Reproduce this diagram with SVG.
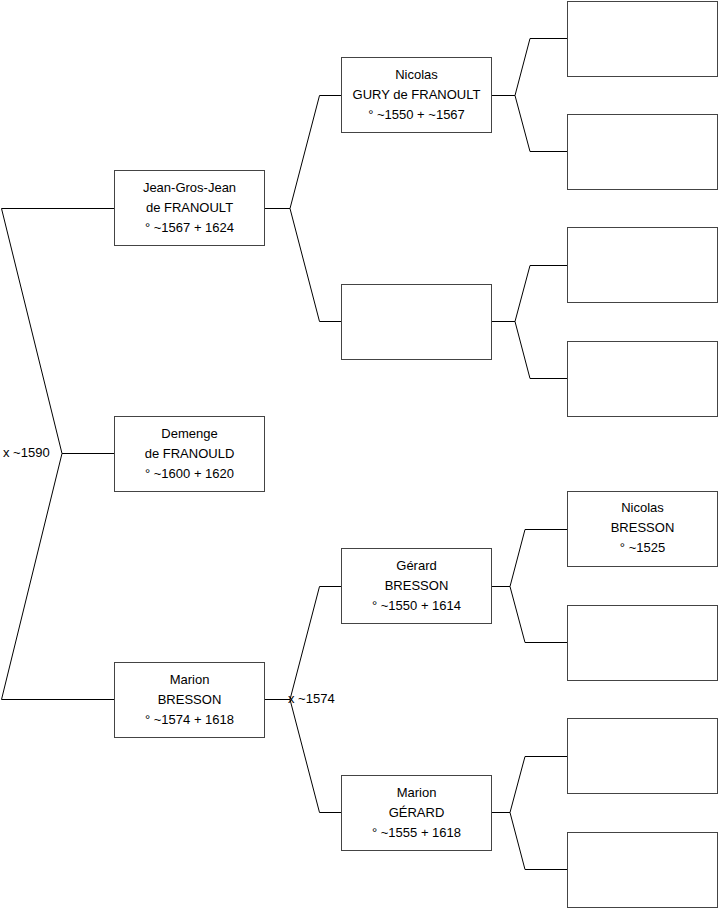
<svg xmlns="http://www.w3.org/2000/svg" width="719" height="908" viewBox="0 0 719 908">
<style>
.box{fill:#fff;stroke:#444;stroke-width:1}
.c{fill:none;stroke:#000;stroke-width:1}
text{font-family:"Liberation Sans",Arial,sans-serif;font-size:13px;fill:#000}
.t{text-anchor:middle}
</style>
<rect width="719" height="908" fill="#fff"/>
<g id="connectors">
<path class="c" d="M114,208.5 H1.5 L62,453.5 L1.5,699.5 H114 M62,453.5 H114"/>
<path class="c" d="M265,208.5 H290 L319.5,95.5 H341 M290,208.5 L319.5,321.5 H341"/>
<path class="c" d="M265,699.5 H290 L319.5,586.5 H341 M290,699.5 L319.5,812.5 H341"/>
<path class="c" d="M492,95.5 H515 L530,38.5 H567 M515,95.5 L530,151.5 H567"/>
<path class="c" d="M492,321.5 H515 L530,265.5 H567 M515,321.5 L530,378.5 H567"/>
<path class="c" d="M492,586.5 H510 L525,529.5 H567 M510,586.5 L525,642.5 H567"/>
<path class="c" d="M492,812.5 H510 L525,756.5 H567 M510,812.5 L525,869.5 H567"/>
<text x="3" y="456.5">x ~1590</text>
<text x="288" y="702.5">x ~1574</text>
</g>
<g id="jean">
<rect class="box" x="114.5" y="170.5" width="150" height="75"/>
<text class="t" x="189.5" y="191.5">Jean-Gros-Jean</text>
<text class="t" x="189.5" y="211.5">de FRANOULT</text>
<text class="t" x="189.5" y="231.5">° ~1567 + 1624</text>
</g>
<g id="demenge">
<rect class="box" x="114.5" y="416.5" width="150" height="75"/>
<text class="t" x="189.5" y="437.5">Demenge</text>
<text class="t" x="189.5" y="457.5">de FRANOULD</text>
<text class="t" x="189.5" y="477.5">° ~1600 + 1620</text>
</g>
<g id="marion-bresson">
<rect class="box" x="114.5" y="662.5" width="150" height="75"/>
<text class="t" x="189.5" y="683.5">Marion</text>
<text class="t" x="189.5" y="703.5">BRESSON</text>
<text class="t" x="189.5" y="723.5">° ~1574 + 1618</text>
</g>
<g id="nicolas-gury">
<rect class="box" x="341.5" y="57.5" width="150" height="75"/>
<text class="t" x="416.5" y="78.5">Nicolas</text>
<text class="t" x="416.5" y="98.5">GURY de FRANOULT</text>
<text class="t" x="416.5" y="118.5">° ~1550 + ~1567</text>
</g>
<g id="empty-2b">
<rect class="box" x="341.5" y="284.5" width="150" height="75"/>
</g>
<g id="gerard-bresson">
<rect class="box" x="341.5" y="548.5" width="150" height="75"/>
<text class="t" x="416.5" y="569.5">Gérard</text>
<text class="t" x="416.5" y="589.5">BRESSON</text>
<text class="t" x="416.5" y="609.5">° ~1550 + 1614</text>
</g>
<g id="marion-gerard">
<rect class="box" x="341.5" y="775.5" width="150" height="75"/>
<text class="t" x="416.5" y="796.5">Marion</text>
<text class="t" x="416.5" y="816.5">GÉRARD</text>
<text class="t" x="416.5" y="836.5">° ~1555 + 1618</text>
</g>
<g id="g3-1"><rect class="box" x="567.5" y="1.5" width="150" height="75"/></g>
<g id="g3-2"><rect class="box" x="567.5" y="114.5" width="150" height="75"/></g>
<g id="g3-3"><rect class="box" x="567.5" y="227.5" width="150" height="75"/></g>
<g id="g3-4"><rect class="box" x="567.5" y="341.5" width="150" height="75"/></g>
<g id="nicolas-bresson">
<rect class="box" x="567.5" y="491.5" width="150" height="75"/>
<text class="t" x="642.5" y="511.5">Nicolas</text>
<text class="t" x="642.5" y="531.5">BRESSON</text>
<text class="t" x="642.5" y="551.5">° ~1525</text>
</g>
<g id="g3-6"><rect class="box" x="567.5" y="605.5" width="150" height="75"/></g>
<g id="g3-7"><rect class="box" x="567.5" y="718.5" width="150" height="75"/></g>
<g id="g3-8"><rect class="box" x="567.5" y="832.5" width="150" height="75"/></g>
</svg>
